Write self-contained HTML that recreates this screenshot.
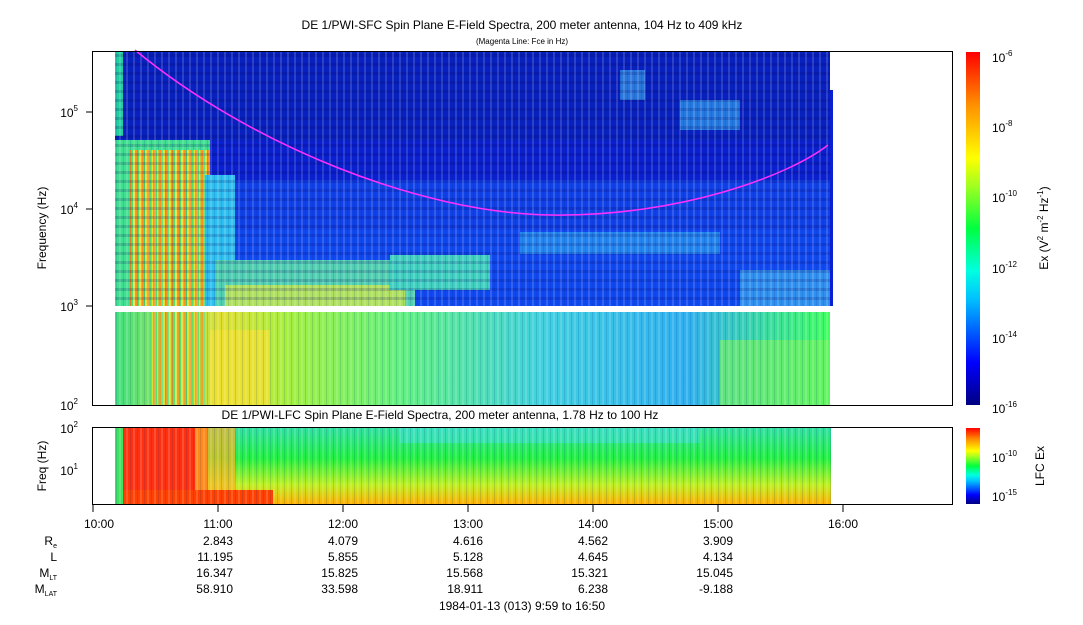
<!DOCTYPE html>
<html><head><style>
body{margin:0;background:#fff;width:1083px;height:620px;overflow:hidden;font-family:"Liberation Sans",sans-serif;}
svg text{font-family:"Liberation Sans",sans-serif;fill:#000}
</style></head><body>
<svg width="1083" height="620" viewBox="0 0 1083 620" xmlns="http://www.w3.org/2000/svg">
<defs>
<linearGradient id="cb" x1="0" y1="1" x2="0" y2="0">
<stop offset="0" stop-color="#000080"/><stop offset="0.12" stop-color="#0000ff"/><stop offset="0.3" stop-color="#00c0ff"/><stop offset="0.38" stop-color="#00ffe0"/><stop offset="0.5" stop-color="#00ff40"/><stop offset="0.62" stop-color="#a0ff20"/><stop offset="0.7" stop-color="#ffff00"/><stop offset="0.85" stop-color="#ff9000"/><stop offset="1" stop-color="#ff0000"/>
</linearGradient>
<linearGradient id="lowtop" x1="0" y1="0" x2="1" y2="0">
<stop offset="0" stop-color="#40e080"/><stop offset="0.15" stop-color="#e0e030"/><stop offset="0.25" stop-color="#a0f040"/><stop offset="0.4" stop-color="#60f080"/><stop offset="0.6" stop-color="#40d0e0"/><stop offset="0.8" stop-color="#30b0f0"/><stop offset="1" stop-color="#40ff60"/>
</linearGradient>
<pattern id="stripes" width="7" height="10" patternUnits="userSpaceOnUse">
<rect width="2" height="10" fill="#ffffff" opacity="0.15"/><rect x="4" width="1" height="10" fill="#003080" opacity="0.15"/>
</pattern>
<pattern id="hb" width="10" height="9" patternUnits="userSpaceOnUse">
<rect width="10" height="3" fill="#000060" opacity="0.18"/>
</pattern>
<pattern id="ystr" width="6" height="10" patternUnits="userSpaceOnUse">
<rect width="6" height="10" fill="#50e070"/><rect x="1" width="2" height="10" fill="#f0e030"/><rect x="4" width="1" height="10" fill="#ff9020"/>
</pattern>
<linearGradient id="botg" x1="0" y1="0" x2="0" y2="1">
<stop offset="0" stop-color="#30e0a0"/><stop offset="0.4" stop-color="#20f040"/><stop offset="0.75" stop-color="#c0f020"/><stop offset="1" stop-color="#ffb000"/>
</linearGradient>
</defs>

<text x="522" y="29" font-size="12" text-anchor="middle">DE 1/PWI-SFC  Spin Plane E-Field Spectra, 200 meter antenna, 104 Hz to 409 kHz</text>
<text x="522" y="44" font-size="8" text-anchor="middle">(Magenta Line: Fce in Hz)</text>

<!-- top spectrogram -->
<rect x="115" y="51" width="715" height="255" fill="#0a1fd0"/>
<rect x="115" y="51" width="715" height="90" fill="#0820c0"/>
<rect x="115" y="180" width="715" height="126" fill="#1040e8"/>
<rect x="200" y="230" width="630" height="76" fill="#1048f0"/>
<rect x="115" y="140" width="95" height="166" fill="#40e090"/>
<rect x="130" y="150" width="80" height="156" fill="url(#ystr)"/>
<rect x="205" y="175" width="30" height="131" fill="#30c0f0"/>
<rect x="215" y="260" width="200" height="46" fill="#50d0b0"/>
<rect x="225" y="285" width="180" height="21" fill="#b0e060"/>
<rect x="390" y="255" width="100" height="35" fill="#40d0c0"/>
<rect x="520" y="232" width="200" height="22" fill="#30b0f0" opacity="0.6"/>
<rect x="680" y="100" width="60" height="30" fill="#30a0f0" opacity="0.7"/>
<rect x="620" y="70" width="25" height="30" fill="#40b0f0" opacity="0.6"/>
<rect x="740" y="270" width="90" height="36" fill="#3090f0"/>
<rect x="115" y="51" width="8" height="85" fill="#20d0a0"/>
<rect x="830" y="90" width="3" height="216" fill="#0a1fd0"/>
<rect x="115" y="51" width="715" height="255" fill="url(#hb)"/>
<rect x="115" y="51" width="715" height="255" fill="url(#stripes)"/>
<!-- lower SFC -->
<rect x="115" y="312" width="715" height="93" fill="url(#lowtop)"/>
<rect x="150" y="312" width="55" height="93" fill="url(#ystr)" opacity="0.8"/>
<rect x="210" y="330" width="60" height="75" fill="#f0e030" opacity="0.8"/>
<rect x="720" y="340" width="110" height="65" fill="#70f060" opacity="0.7"/>
<rect x="115" y="312" width="715" height="93" fill="url(#stripes)"/>
<path d="M135,50 C250,145 420,213 550,215 C680,217 790,175 828,145" fill="none" stroke="#ff30ff" stroke-width="1.5"/>
<rect x="92.5" y="51.5" width="860" height="354" fill="none" stroke="#000"/>

<!-- y ticks top -->
<g font-size="12" text-anchor="end">
<text x="78" y="117">10<tspan font-size="8" dy="-6">5</tspan></text>
<text x="78" y="214">10<tspan font-size="8" dy="-6">4</tspan></text>
<text x="78" y="311">10<tspan font-size="8" dy="-6">3</tspan></text>
<text x="78" y="410">10<tspan font-size="8" dy="-6">2</tspan></text>
</g>
<g stroke="#000"><line x1="86" y1="112" x2="92" y2="112"/><line x1="86" y1="209" x2="92" y2="209"/><line x1="86" y1="306" x2="92" y2="306"/></g>
<text transform="translate(46,228) rotate(-90)" font-size="12" text-anchor="middle">Frequency (Hz)</text>

<!-- colorbar top -->
<rect x="966" y="52" width="14" height="353" fill="url(#cb)"/>
<g font-size="12">
<text x="992" y="62">10<tspan font-size="8" dy="-6">-6</tspan></text>
<text x="992" y="132">10<tspan font-size="8" dy="-6">-8</tspan></text>
<text x="992" y="202">10<tspan font-size="8" dy="-6">-10</tspan></text>
<text x="992" y="273">10<tspan font-size="8" dy="-6">-12</tspan></text>
<text x="992" y="343">10<tspan font-size="8" dy="-6">-14</tspan></text>
<text x="992" y="413">10<tspan font-size="8" dy="-6">-16</tspan></text>
</g>
<text transform="translate(1048,228) rotate(-90)" font-size="12" text-anchor="middle">Ex (V<tspan font-size="8" dy="-5">2</tspan><tspan dy="5"> m</tspan><tspan font-size="8" dy="-5">-2</tspan><tspan dy="5"> Hz</tspan><tspan font-size="8" dy="-5">-1</tspan><tspan dy="5">)</tspan></text>

<!-- bottom -->
<text x="440" y="419" font-size="12" text-anchor="middle">DE 1/PWI-LFC  Spin Plane E-Field Spectra, 200 meter antenna, 1.78 Hz to 100 Hz</text>
<rect x="115" y="428" width="716" height="76" fill="url(#botg)"/>
<rect x="115" y="428" width="8" height="76" fill="#40e060"/>
<rect x="123" y="428" width="85" height="76" fill="#ff3010"/>
<rect x="195" y="428" width="40" height="76" fill="#ffb020" opacity="0.7"/>
<rect x="123" y="490" width="150" height="14" fill="#ff4000"/>
<rect x="400" y="428" width="300" height="15" fill="#40e0d0" opacity="0.6"/>
<rect x="115" y="428" width="716" height="76" fill="url(#stripes)"/>
<rect x="92.5" y="427.5" width="860" height="77" fill="none" stroke="#000"/>
<g font-size="12" text-anchor="end">
<text x="78" y="433">10<tspan font-size="8" dy="-6">2</tspan></text>
<text x="78" y="475">10<tspan font-size="8" dy="-6">1</tspan></text>
</g>
<text transform="translate(46,466) rotate(-90)" font-size="12" text-anchor="middle">Freq (Hz)</text>
<rect x="966" y="428" width="14" height="76" fill="url(#cb)"/>
<g font-size="12"><text x="992" y="462">10<tspan font-size="8" dy="-6">-10</tspan></text><text x="992" y="501">10<tspan font-size="8" dy="-6">-15</tspan></text></g>
<text transform="translate(1044,466) rotate(-90)" font-size="12" text-anchor="middle">LFC Ex</text>

<!-- time axis -->
<g stroke="#000">
<line x1="93" y1="505" x2="93" y2="512"/><line x1="218" y1="505" x2="218" y2="512"/><line x1="343" y1="505" x2="343" y2="512"/><line x1="468" y1="505" x2="468" y2="512"/><line x1="593" y1="505" x2="593" y2="512"/><line x1="718" y1="505" x2="718" y2="512"/><line x1="843" y1="505" x2="843" y2="512"/>
</g>
<g font-size="12" text-anchor="middle">
<text x="99" y="528">10:00</text><text x="218" y="528">11:00</text><text x="343" y="528">12:00</text><text x="468" y="528">13:00</text><text x="593" y="528">14:00</text><text x="718" y="528">15:00</text><text x="843" y="528">16:00</text>
</g>
<g font-size="12" text-anchor="end">
<text x="57" y="545">R<tspan font-size="7" dy="3">e</tspan></text>
<text x="57" y="561">L</text>
<text x="57" y="577">M<tspan font-size="7" dy="3">LT</tspan></text>
<text x="57" y="593">M<tspan font-size="7" dy="3">LAT</tspan></text>
<text x="233" y="545">2.843</text><text x="358" y="545">4.079</text><text x="483" y="545">4.616</text><text x="608" y="545">4.562</text><text x="733" y="545">3.909</text>
<text x="233" y="561">11.195</text><text x="358" y="561">5.855</text><text x="483" y="561">5.128</text><text x="608" y="561">4.645</text><text x="733" y="561">4.134</text>
<text x="233" y="577">16.347</text><text x="358" y="577">15.825</text><text x="483" y="577">15.568</text><text x="608" y="577">15.321</text><text x="733" y="577">15.045</text>
<text x="233" y="593">58.910</text><text x="358" y="593">33.598</text><text x="483" y="593">18.911</text><text x="608" y="593">6.238</text><text x="733" y="593">-9.188</text>
</g>
<text x="522" y="610" font-size="12" text-anchor="middle">1984-01-13 (013) 9:59 to 16:50</text>
</svg>
</body></html>
